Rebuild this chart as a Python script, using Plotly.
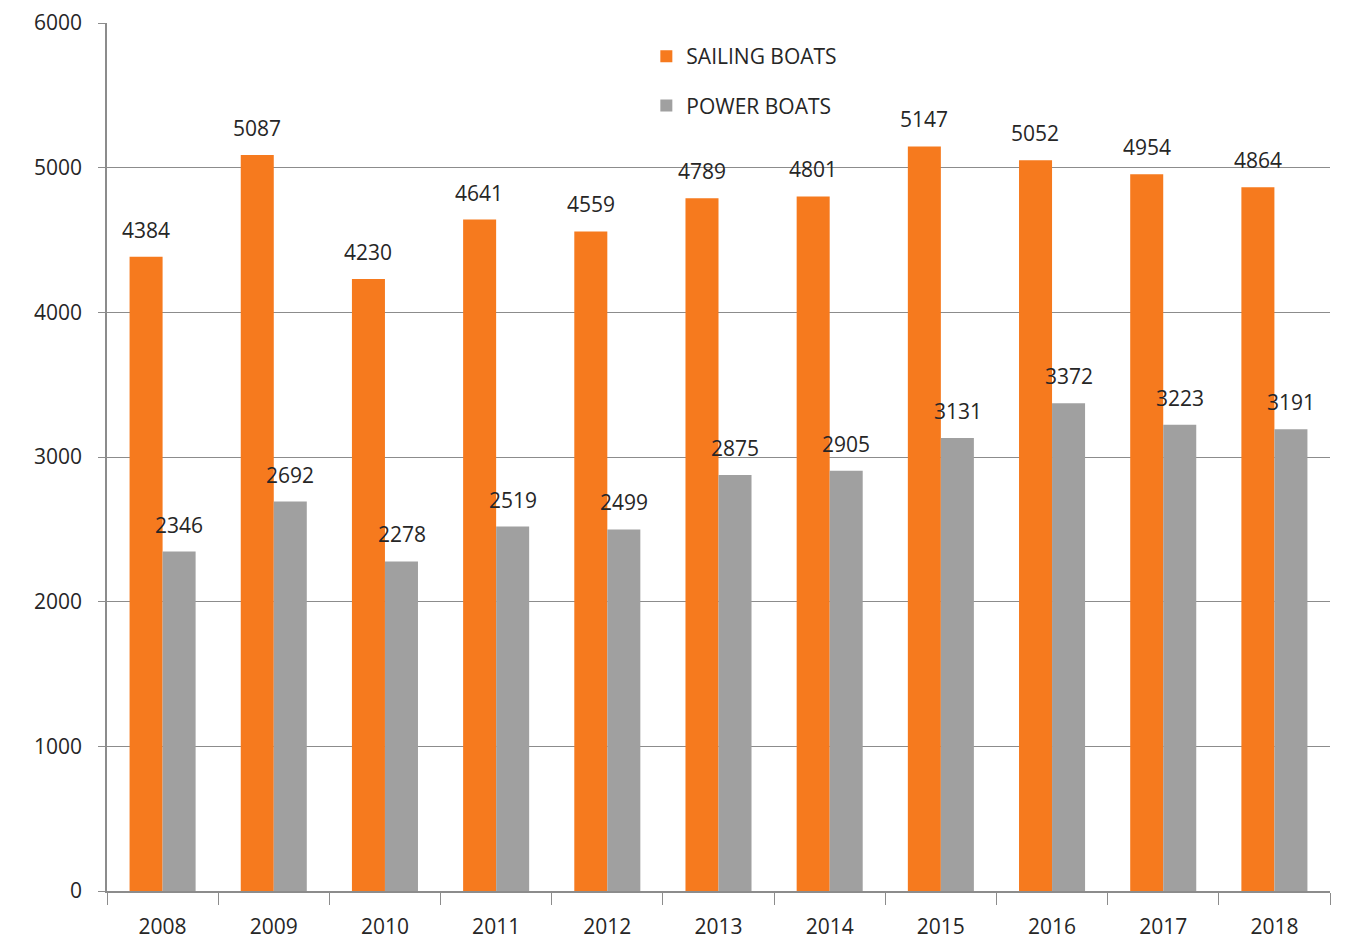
import plotly.graph_objects as go

years = ["2008", "2009", "2010", "2011", "2012", "2013", "2014", "2015", "2016", "2017", "2018"]
sailing = [4384, 5087, 4230, 4641, 4559, 4789, 4801, 5147, 5052, 4954, 4864]
power = [2346, 2692, 2278, 2519, 2499, 2875, 2905, 3131, 3372, 3223, 3191]
y_ticks = [0, 1000, 2000, 3000, 4000, 5000, 6000]

ORANGE = "#F67A1E"
GREY = "#A0A0A0"
FONT = "Open Sans"
TEXT = "#262626"
SIZE = 21

fig = go.Figure()
fig.add_trace(go.Bar(name="SAILING BOATS", x=years, y=sailing, marker_color=ORANGE,
                     marker_line_width=0, legendgroup="s"))
fig.add_trace(go.Bar(name="POWER BOATS", x=years, y=power, marker_color=GREY,
                     marker_line_width=0, legendgroup="p"))

# value labels above each bar (x given as category index)
half = 16.7
for i, v in enumerate(sailing):
    fig.add_annotation(x=i, y=v, text=str(v), showarrow=False, xshift=-half, yshift=27,
                       yanchor="middle", font=dict(family=FONT, size=SIZE, color=TEXT))
for i, v in enumerate(power):
    fig.add_annotation(x=i, y=v, text=str(v), showarrow=False, xshift=half, yshift=27,
                       yanchor="middle", font=dict(family=FONT, size=SIZE, color=TEXT))

fig.update_layout(
    width=1352, height=942,
    margin=dict(l=107, r=22, t=23, b=51),
    paper_bgcolor="white", plot_bgcolor="white",
    barmode="group", bargap=0.406, bargroupgap=0,
    font=dict(family=FONT, size=SIZE, color=TEXT),
    legend=dict(x=0.441, y=0.985, xanchor="left", yanchor="top",
                bgcolor="rgba(0,0,0,0)", tracegroupgap=19,
                font=dict(family=FONT, size=SIZE, color=TEXT)),
    showlegend=True,
)
fig.update_xaxes(
    type="category", range=[-0.5, 10.5], automargin=False,
    tickson="boundaries", ticks="outside", ticklen=12, tickcolor="#8c8c8c",
    showline=True, linecolor="#8c8c8c", linewidth=1.5, showgrid=False,
    ticklabelstandoff=16, tickfont=dict(family=FONT, size=SIZE, color=TEXT),
)
fig.update_yaxes(
    range=[0, 6000], tickvals=y_ticks, ticks="outside", ticklen=7, tickcolor="#8c8c8c",
    showline=True, linecolor="#8c8c8c", linewidth=1.5, automargin=False,
    showgrid=True, gridcolor="#8c8c8c", gridwidth=1.2, zeroline=False,
    ticklabelstandoff=12, tickfont=dict(family=FONT, size=SIZE, color=TEXT),
)

fig.write_html("out.html")
